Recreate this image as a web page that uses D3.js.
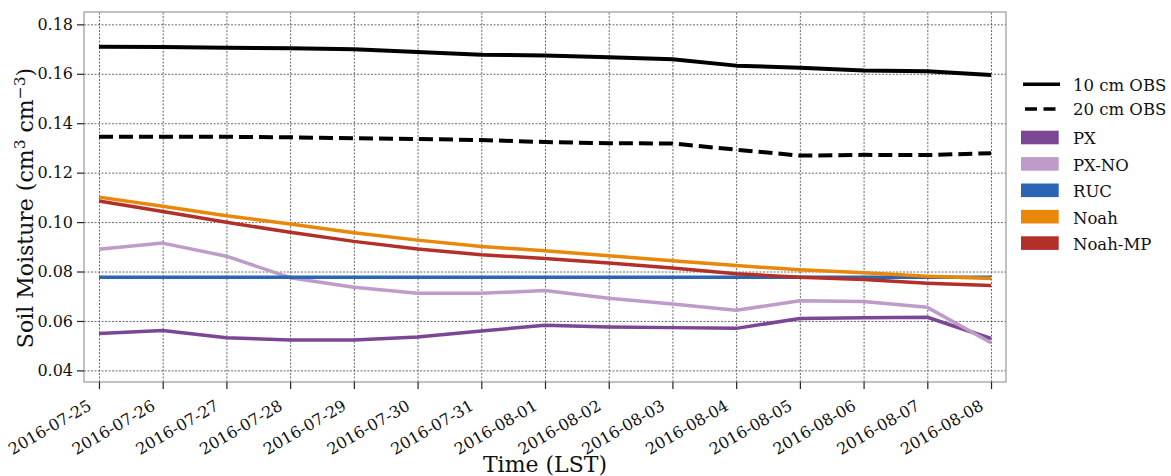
<!DOCTYPE html>
<html>
<head>
<meta charset="utf-8">
<script src="https://d3js.org/d3.v7.min.js"></script>
<style>
  body { margin: 0; background: #fff; }
  svg text { font-family: "DejaVu Serif", serif; fill: #111; }
  .grid line { stroke: #444; stroke-width: 0.8; stroke-dasharray: 2,1.5; }
  .grid path { display: none; }
  .axis path { display: none; }
  .axis line { stroke: #222; stroke-width: 1.2; }
  .axis text { font-size: 16px; }
</style>
</head>
<body>
<svg width="1171" height="476"></svg>
<script>
// dates (LST)
const dates = ["2016-07-25","2016-07-26","2016-07-27","2016-07-28","2016-07-29","2016-07-30","2016-07-31",
  "2016-08-01","2016-08-02","2016-08-03","2016-08-04","2016-08-05","2016-08-06","2016-08-07","2016-08-08"];

const obs10 = [0.1709,0.1708,0.1705,0.1703,0.1699,0.1688,0.1677,0.1674,0.1667,0.1659,0.1633,0.1624,0.1613,0.1610,0.1595];
const obs20 = [0.1345,0.1345,0.1345,0.1343,0.1339,0.1336,0.1332,0.1324,0.1319,0.1318,0.1293,0.1269,0.1272,0.1271,0.1279];
const px    = [0.0549,0.0561,0.0532,0.0523,0.0523,0.0535,0.0559,0.0583,0.0576,0.0573,0.0570,0.0610,0.0613,0.0615,0.0529];
const pxno  = [0.0890,0.0915,0.0862,0.0775,0.0736,0.0712,0.0712,0.0723,0.0692,0.0669,0.0643,0.0682,0.0679,0.0655,0.0512];
const ruc   = [0.0777,0.0777,0.0777,0.0777,0.0777,0.0777,0.0777,0.0777,0.0777,0.0777,0.0777,0.0777,0.0777,0.0777,0.0777];
const noah  = [0.1101,0.1064,0.1026,0.0992,0.0957,0.0927,0.0901,0.0884,0.0864,0.0844,0.0824,0.0807,0.0795,0.0781,0.0772];
const noahmp= [0.1085,0.1043,0.0999,0.0959,0.0922,0.0891,0.0868,0.0853,0.0834,0.0814,0.0791,0.0777,0.0768,0.0753,0.0743];

const yTicks = [0.04,0.06,0.08,0.10,0.12,0.14,0.16,0.18];

const modelNames = ["PX","PX-NO","RUC","Noah","Noah-MP"];
const modelColors = ["#7b4794","#bf9bc9","#2a66b4","#e8870a","#b3302a"];
const modelValues = [px, pxno, ruc, noah, noahmp];

const svg = d3.select("svg");
const mLeft = 84, mRight = 1006, mTop = 12, mBottom = 382;

const parse = d3.timeParse("%Y-%m-%d");
const t = dates.map(parse);
const pad = 0.235 * 864e5;
const xs = d3.scaleTime().domain([+t[0] - pad, +t[t.length-1] + pad]).range([mLeft, mRight]);
const ys = d3.scaleLinear().domain([0.0353, 0.185]).range([mBottom, mTop]);

// grid
svg.append("g").attr("class","grid").attr("transform","translate(0,"+mBottom+")")
  .call(d3.axisBottom(xs).tickValues(t).tickSize(-(mBottom-mTop)).tickFormat(""));
svg.append("g").attr("class","grid").attr("transform","translate("+mLeft+",0)")
  .call(d3.axisLeft(ys).tickValues(yTicks).tickSize(-(mRight-mLeft)).tickFormat(""));

// frame
svg.append("rect").attr("x",mLeft).attr("y",mTop).attr("width",mRight-mLeft).attr("height",mBottom-mTop)
  .attr("fill","none").attr("stroke","#999").attr("stroke-width",1.2);

// axes
const xa = svg.append("g").attr("class","axis").attr("transform","translate(0,"+mBottom+")")
  .call(d3.axisBottom(xs).tickValues(t).tickSize(7).tickFormat(d3.timeFormat("%Y-%m-%d")));
xa.selectAll("text")
  .attr("text-anchor","end")
  .attr("dy", null).attr("y", 0)
  .attr("transform","translate(-7,27) rotate(-30)");

svg.append("g").attr("class","axis").attr("transform","translate("+mLeft+",0)")
  .call(d3.axisLeft(ys).tickValues(yTicks).tickSize(7).tickPadding(4).tickFormat(d3.format(".2f")));

// lines
const line = d3.line().x((d,i) => xs(t[i])).y(d => ys(d));

modelValues.forEach((vals, k) => {
  svg.append("path").datum(vals).attr("d", line)
    .attr("fill","none").attr("stroke", modelColors[k]).attr("stroke-width", 3.5)
    .attr("stroke-linejoin","round");
});
svg.append("path").datum(obs20).attr("d", line)
  .attr("fill","none").attr("stroke","#000").attr("stroke-width",4).attr("stroke-dasharray","14,6");
svg.append("path").datum(obs10).attr("d", line)
  .attr("fill","none").attr("stroke","#000").attr("stroke-width",4).attr("stroke-linejoin","round");

// axis titles
svg.append("text").attr("x", 545).attr("y", 472)
  .attr("text-anchor","middle").attr("font-size", 22).text("Time (LST)");

const yl = svg.append("text").attr("transform","translate(33,208) rotate(-90)")
  .attr("text-anchor","middle").attr("font-size", 22);
yl.append("tspan").text("Soil Moisture (cm");
yl.append("tspan").attr("dy",-8).attr("font-size",15.5).text("3");
yl.append("tspan").attr("dy",8).text(" cm");
yl.append("tspan").attr("dy",-8).attr("font-size",15.5).text("\u22123");
yl.append("tspan").attr("dy",8).text(")");

// legend
const lg = svg.append("g").attr("transform","translate(1021,0)");
const obsRows = [{name:"10 cm OBS", dash:null, x1:2, y:84.3}, {name:"20 cm OBS", dash:"12,6.5", x1:4, y:109}];
obsRows.forEach(r => {
  lg.append("line").attr("x1",r.x1).attr("x2",39).attr("y1",r.y).attr("y2",r.y)
    .attr("stroke","#000").attr("stroke-width",3.5).attr("stroke-dasharray",r.dash);
  lg.append("text").attr("x",52).attr("y",r.y+6.4).attr("font-size",16.5).text(r.name);
});
modelNames.forEach((n,i) => {
  const cy = 137.5 + i*26.4;
  lg.append("rect").attr("x",0).attr("y",cy-6.8).attr("width",37.7).attr("height",13.6)
    .attr("fill",modelColors[i]);
  lg.append("text").attr("x",52).attr("y",cy+6.8).attr("font-size",16.5).text(n);
});
</script>
</body>
</html>
